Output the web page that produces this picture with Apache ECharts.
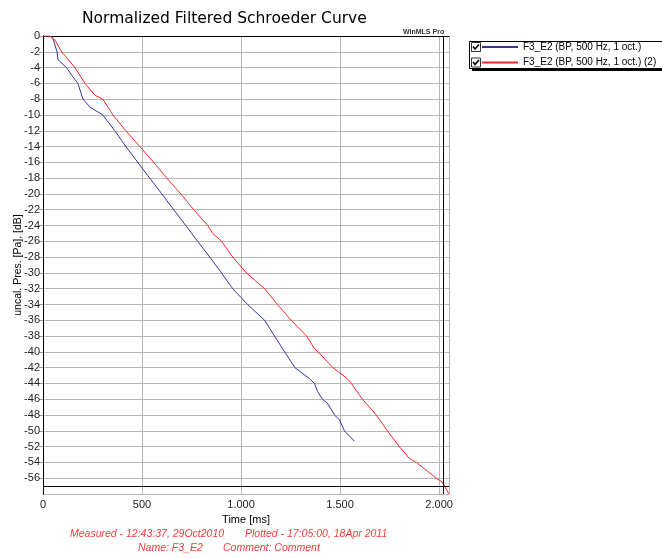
<!DOCTYPE html>
<html>
<head>
<meta charset="utf-8">
<script src="https://cdn.jsdelivr.net/npm/echarts@6/dist/echarts.min.js"></script>
<style>
  html, body { margin: 0; padding: 0; background: #fff; }
  #chart { width: 662px; height: 558px; }
</style>
</head>
<body>
<div id="chart"></div>
<script>
// values: time in ms, level in dB
const blueTime = [35, 50, 71, 76, 119, 146, 176, 202, 237, 302, 363, 418, 479, 539, 600, 660, 721, 781, 842, 901, 958, 1033, 1119, 1169, 1210, 1272, 1346, 1371, 1386, 1411, 1436, 1472, 1497, 1522, 1572];
const blueLevel = [0, -0.3, -2, -3, -4, -5, -6, -8, -9, -10, -12, -14, -16, -18, -20, -22, -24, -26, -28, -30, -32, -34, -36, -38, -39.6, -42, -43.4, -44, -45, -46, -46.5, -48, -48.6, -50, -51.3];

const redTime = [0, 35, 60, 94, 161, 212, 262, 302, 353, 418, 489, 559, 625, 696, 761, 832, 857, 902, 958, 1027, 1119, 1184, 1253, 1331, 1371, 1389, 1464, 1537, 1557, 1613, 1683, 1739, 1799, 1850, 1885, 1986, 2016, 2050];
const redLevel = [0, 0, -0.5, -2, -4, -6, -7.5, -8, -10, -12, -14, -16, -18, -20, -22, -24, -25, -26, -28, -30, -32, -34, -36, -38, -39.6, -40, -42, -43.4, -44, -46, -48, -50, -52, -53.5, -54, -56, -56.5, -58];

const seriesNames = ['F3_E2 (BP, 500 Hz, 1 oct.)', 'F3_E2 (BP, 500 Hz, 1 oct.) (2)'];
const markerLevel = -57;
const markerTime = 2020;

const pairs = (xs, ys) => xs.map((x, i) => [x, ys[i]]);

const fmtTime = (v) => {
  if (v < 1000) return String(v);
  return Math.floor(v / 1000) + '.' + String(v % 1000).padStart(3, '0');
};

const labelFont = 'Liberation Sans';
const footRed = '#f03c3c';

const chart = echarts.init(document.getElementById('chart'));

chart.setOption({
  animation: false,
  title: {
    text: 'Normalized Filtered Schroeder Curve',
    left: 82,
    top: 11,
    padding: 0,
    textStyle: { fontFamily: 'DejaVu Sans', fontSize: 15.5, fontWeight: 'normal', color: '#000' }
  },
  legend: {
    orient: 'vertical',
    left: 481,
    top: 42,
    padding: 0,
    itemWidth: 36,
    itemHeight: 10,
    itemGap: 5.5,
    z: 10,
    selectedMode: false,
    itemStyle: { opacity: 0 },
    textStyle: { fontFamily: labelFont, fontSize: 10, color: '#000' },
    data: seriesNames
  },
  grid: {
    left: 43,
    right: 213,
    top: 36,
    bottom: 64,
    outerBoundsMode: 'none',
    containLabel: false
  },
  xAxis: {
    type: 'value',
    min: 0,
    max: 2050,
    interval: 500,
    name: 'Time [ms]',
    nameLocation: 'middle',
    nameGap: 18,
    nameTextStyle: { fontFamily: labelFont, fontSize: 11, color: '#000' },
    axisLine: { lineStyle: { color: '#000', width: 1 } },
    axisTick: { show: false },
    axisLabel: {
      margin: 5,
      showMaxLabel: false,
      fontFamily: labelFont,
      fontSize: 11,
      color: '#222',
      formatter: fmtTime
    },
    splitLine: { show: true, lineStyle: { color: '#b9b5b5', width: 1 } }
  },
  yAxis: [
    {
      type: 'value',
      min: -58,
      max: 0,
      interval: 2,
      name: 'uncal. Pres. [Pa], [dB]',
      nameLocation: 'middle',
      nameGap: 19,
      nameMoveOverlap: false,
      nameTextStyle: { fontFamily: labelFont, fontSize: 10.5, color: '#000' },
      axisLine: { show: true, onZero: false, lineStyle: { color: '#000', width: 1 } },
      axisTick: { show: true, length: 4, lineStyle: { color: '#999' } },
      axisLabel: {
        margin: 3,
        showMinLabel: false,
        fontFamily: labelFont,
        fontSize: 11,
        color: '#222'
      },
      splitLine: { show: true, lineStyle: { color: '#b9b5b5', width: 1 } }
    },
    {
      type: 'value',
      position: 'right',
      min: -58,
      max: 0,
      interval: 2,
      axisLine: { show: true, lineStyle: { color: '#000', width: 1 } },
      axisTick: { show: false },
      axisLabel: { show: false },
      splitLine: { show: false }
    }
  ],
  series: [
    {
      name: seriesNames[0],
      type: 'line',
      symbol: 'none',
      color: '#34349e',
      lineStyle: { width: 1 },
      data: pairs(blueTime, blueLevel)
    },
    {
      name: seriesNames[1],
      type: 'line',
      symbol: 'none',
      color: '#ff2424',
      lineStyle: { width: 1 },
      data: pairs(redTime, redLevel),
      markLine: {
        silent: true,
        symbol: 'none',
        label: { show: false },
        lineStyle: { color: '#000', width: 1, type: 'solid' },
        data: [{ yAxis: markerLevel }, { xAxis: markerTime }]
      }
    }
  ],
  graphic: [
    { type: 'rect', z: 1, shape: { x: 469.5, y: 41.5, width: 200, height: 27 }, style: { fill: '#fff', stroke: '#000', lineWidth: 1 } },
    { type: 'rect', z: 1, shape: { x: 472, y: 68, width: 200, height: 3 }, style: { fill: '#000' } },
    { type: 'rect', z: 2, shape: { x: 471.5, y: 42.5, width: 9, height: 9 }, style: { fill: '#fff', stroke: '#333', lineWidth: 1 } },
    { type: 'polyline', z: 2, shape: { points: [[473, 46.5], [475, 49], [479, 44.5]] }, style: { stroke: '#000', lineWidth: 1.6, fill: null } },
    { type: 'rect', z: 2, shape: { x: 471.5, y: 58, width: 9, height: 9 }, style: { fill: '#fff', stroke: '#333', lineWidth: 1 } },
    { type: 'polyline', z: 2, shape: { points: [[473, 62], [475, 64.5], [479, 60]] }, style: { stroke: '#000', lineWidth: 1.6, fill: null } },
    { type: 'text', z: 3, left: 403, top: 29, style: { text: 'WinMLS Pro', font: 'bold 7px "Liberation Sans"', fill: '#333' } },
    { type: 'text', left: 70, top: 529, style: { text: 'Measured - 12:43:37, 29Oct2010', font: 'italic 10.5px "Liberation Sans"', fill: footRed } },
    { type: 'text', left: 245, top: 529, style: { text: 'Plotted - 17:05:00, 18Apr 2011', font: 'italic 10.5px "Liberation Sans"', fill: footRed } },
    { type: 'text', left: 138, top: 543, style: { text: 'Name: F3_E2', font: 'italic 10.5px "Liberation Sans"', fill: footRed } },
    { type: 'text', left: 223, top: 543, style: { text: 'Comment: Comment', font: 'italic 10.5px "Liberation Sans"', fill: footRed } }
  ]
});
</script>
</body>
</html>
